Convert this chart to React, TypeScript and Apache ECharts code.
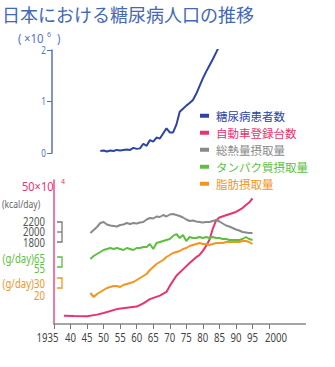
import React, { useEffect, useRef } from "react";
import * as echarts from "echarts";

const titleText = "日本における糖尿病人口の推移";
const seriesNames = ["糖尿病患者数", "自動車登録台数", "総熱量摂取量", "タンパク質摂取量", "脂肪摂取量"];
const seriesColors = ["#2c44a3", "#e8336f", "#8a8a8a", "#5cbf3f", "#f7941d"];

const xTicks = [1935, 1940, 1945, 1950, 1955, 1960, 1965, 1970, 1975, 1980, 1985, 1990, 1995, 2000];
const xTickLabels = ["1935", "40", "45", "50", "55", "60", "65", "70", "75", "80", "85", "90", "95", "2000"];
const topTicks = [0, 1, 2];

// 糖尿病患者数 (×10^6)
const diabetesYears = [1949, 1950, 1951, 1952, 1953, 1954, 1955, 1956, 1957, 1958, 1959, 1960, 1961, 1962, 1963, 1964, 1965, 1966, 1967, 1968, 1969, 1970, 1971, 1972, 1973, 1974, 1975, 1976, 1977, 1978, 1979, 1980, 1981, 1982, 1983, 1984, 1985];
const diabetes = [0.04, 0.05, 0.03, 0.05, 0.04, 0.06, 0.05, 0.06, 0.07, 0.06, 0.1, 0.08, 0.09, 0.18, 0.14, 0.25, 0.22, 0.3, 0.28, 0.38, 0.48, 0.4, 0.4, 0.55, 0.8, 0.86, 0.92, 0.97, 1.03, 1.15, 1.3, 1.45, 1.58, 1.7, 1.82, 1.95, 2.08];

// 自動車登録台数 (×10^4)
const carYears = [1938, 1941, 1945, 1948, 1950, 1954, 1957, 1960, 1962, 1964, 1967, 1969, 1970, 1972, 1974, 1976, 1978, 1979, 1980, 1981, 1982, 1983, 1984, 1985, 1987, 1990, 1992, 1993, 1994, 1995];
const cars = [3.0, 2.9, 2.8, 3.4, 4.0, 5.4, 5.9, 6.3, 7.5, 9.0, 10.3, 11.6, 13.8, 17.5, 19.8, 22.1, 24.2, 25.0, 26.5, 28.3, 30.5, 34.5, 37.5, 38.6, 39.4, 40.6, 42.0, 43.1, 44.0, 45.5];

// 摂取量 years
const intakeYears = [1946, 1947, 1948, 1949, 1950, 1951, 1952, 1953, 1954, 1955, 1956, 1957, 1958, 1959, 1960, 1961, 1962, 1963, 1964, 1965, 1966, 1967, 1968, 1969, 1970, 1971, 1972, 1973, 1974, 1975, 1976, 1977, 1978, 1979, 1980, 1981, 1982, 1983, 1984, 1985, 1986, 1987, 1988, 1989, 1990, 1991, 1992, 1993, 1994, 1995];
// 総熱量 (kcal/day)
const energy = [1980, 2040, 2100, 2180, 2200, 2150, 2130, 2120, 2110, 2140, 2150, 2180, 2160, 2180, 2170, 2190, 2200, 2250, 2280, 2270, 2310, 2300, 2340, 2310, 2350, 2360, 2340, 2320, 2290, 2250, 2220, 2230, 2210, 2200, 2190, 2200, 2200, 2220, 2240, 2210, 2170, 2130, 2110, 2080, 2050, 2030, 2000, 1990, 1980, 1980];
// タンパク質 (g/day)
const protein = [63, 66, 68, 70, 72, 73, 74, 73, 74, 73, 72, 74, 73, 72, 74, 74, 75, 75, 78, 73, 79, 80, 81, 82, 83, 86, 88, 84, 87, 81, 85, 84, 84, 85, 84, 85, 84, 85, 84, 84, 83, 83, 82, 82, 82, 82, 83, 85, 83, 82];
// 脂肪 (g/day)
const fat = [15, 11, 14, 16, 18, 20, 21, 22, 22, 21, 23, 24, 25, 26, 28, 30, 32, 34, 38, 41, 44, 46, 48, 51, 53, 55, 56, 57, 59, 60, 62, 63, 64, 65, 64, 64, 63, 64, 65, 65, 65, 66, 66, 66, 66, 66, 67, 67, 66, 64];

const energyTicks = [2200, 2000, 1800];
const proteinTicks = [65, 55];
const fatTicks = [30, 20];

const NARROW = "'Noto Sans', sans-serif";
const JP = "'Noto Sans CJK JP', sans-serif";
const SQ = 0.74;

const zip = (xs: number[], ys: number[]) => xs.map((x, i) => [x, ys[i]]);

export default function App() {
  const ref = useRef<HTMLDivElement>(null);
  useEffect(() => {
    document.body.style.margin = "0";
    const chart = echarts.init(ref.current!, null, { renderer: "svg" });
    const line = (i: number, data: number[][], xi: number, yi: number) => ({
      name: seriesNames[i],
      type: "line",
      xAxisIndex: xi,
      yAxisIndex: yi,
      data,
      symbol: "none",
      color: seriesColors[i],
      lineStyle: { width: 2, color: seriesColors[i] },
    });
    chart.setOption({
      animation: false,
      title: {
        text: titleText,
        left: 2,
        top: 5,
        padding: 0,
        textStyle: { fontSize: 18, fontWeight: "normal", color: "#4468b4", fontFamily: JP },
      },
      legend: {
        orient: "vertical",
        left: 200,
        top: 110,
        itemWidth: 9,
        itemHeight: 4,
        itemGap: 5.5,
        icon: "rect",
        padding: 0,
        data: seriesNames.map((n, i) => ({
          name: n,
          textStyle: { color: seriesColors[i], fontSize: 11.5, fontFamily: JP, padding: [0, 0, 0, 2] },
        })),
      },
      grid: [
        { left: 54, top: 50, width: 251.4, height: 103 },
        { left: 54, top: 180, width: 251.4, height: 144 },
      ],
      xAxis: [
        { type: "value", gridIndex: 0, min: 1935, max: 2011, show: false },
        {
          type: "value",
          gridIndex: 1,
          min: 1935,
          max: 2011,
          interval: 5,
          axisLine: { lineStyle: { color: "#888", width: 1.5 } },
          axisTick: { customValues: xTicks, length: 5, lineStyle: { color: "#777", width: 1 } },
          axisLabel: { show: false },
          splitLine: { show: false },
        },
      ],
      yAxis: [
        {
          type: "value",
          gridIndex: 0,
          min: 0,
          max: 2,
          interval: 1,
          offset: 2,
          axisLine: { show: true, lineStyle: { color: "#5a6fbf", width: 1.5 } },
          axisTick: { show: true, customValues: topTicks, length: 5, lineStyle: { color: "#5a6fbf" } },
          axisLabel: { show: false },
          splitLine: { show: false },
        },
        {
          type: "value",
          gridIndex: 1,
          min: 0,
          max: 52.17,
          axisLine: { show: true, lineStyle: { color: "#ea4c86", width: 1.5 } },
          axisTick: { show: false },
          axisLabel: { show: false },
          splitLine: { show: false },
        },
        { type: "value", gridIndex: 1, min: 160, max: 3040, show: false, splitLine: { show: false } },
        { type: "value", gridIndex: 1, min: -2, max: 142, show: false, splitLine: { show: false } },
        { type: "value", gridIndex: 1, min: -16, max: 128, show: false, splitLine: { show: false } },
      ],
      series: [
        line(0, zip(diabetesYears, diabetes), 0, 0),
        line(1, zip(carYears, cars), 1, 1),
        line(2, zip(intakeYears, energy), 1, 2),
        line(3, zip(intakeYears, protein), 1, 3),
        line(4, zip(intakeYears, fat), 1, 4),
      ],
    });

    const py = (axis: number, v: number) => chart.convertToPixel({ yAxisIndex: axis }, v) as number;
    const px = (v: number) => chart.convertToPixel({ xAxisIndex: 1 }, v) as number;
    const bx0 = 57;
    const bx1 = 62;
    const bracket = (a: number, b: number, color: string) => ({
      type: "polyline",
      shape: { points: [[bx0, a], [bx1, a], [bx1, b], [bx0, b]] },
      style: { stroke: color, lineWidth: 1.3, fill: null },
    });
    const txt = (x: number, y: number, text: string, color: string, size: number, align = "right", sx = SQ) => ({
      type: "text",
      x,
      y,
      scaleX: sx,
      style: { text, fill: color, fontSize: size, fontFamily: NARROW, align, verticalAlign: "middle" },
    });
    const e0 = py(2, energyTicks[0]);
    const e1 = py(2, energyTicks[1]);
    const e2 = py(2, energyTicks[2]);
    const p0 = py(3, proteinTicks[0]);
    const p1 = py(3, proteinTicks[1]);
    const f0 = py(4, fatTicks[0]);
    const f1 = py(4, fatTicks[1]);
    const gray = "#666";
    const green = "#5cbf3f";
    const orange = "#f7941d";
    const pink = "#e8336f";
    const blue = "#5a6fbf";
    const axisY = py(1, 0);

    const last = xTicks.length - 1;
    const xLabels = xTicks.map((v, i) =>
      txt(px(v) + (i === 0 ? -6.5 : i === last ? 7 : 0), axisY + 13, xTickLabels[i], "#444", 13, "center")
    );
    const topLabels = topTicks.map((v) => txt(46, py(0, v), String(v), blue, 11, "right"));

    chart.setOption({
      graphic: [
        ...xLabels,
        ...topLabels,
        txt(18, 38, "(", blue, 12, "left", 0.95),
        txt(24, 38, "×10", blue, 12, "left", 0.95),
        txt(47, 34, "6", blue, 7, "left", 1),
        txt(57, 38, ")", blue, 12, "left", 0.95),
        txt(22, 186, "50×10", pink, 13, "left", 0.85),
        txt(61, 181, "4", pink, 7, "left", 1),
        txt(2, 203, "(kcal/day)", gray, 11.5, "left"),
        txt(45, e0 - 1, String(energyTicks[0]), "#555", 13),
        txt(45, e1 - 1, String(energyTicks[1]), "#555", 13),
        txt(45, e2, String(energyTicks[2]), "#555", 13),
        bracket(e0, e2, "#777"),
        { type: "line", shape: { x1: bx0, y1: e1, x2: bx1, y2: e1 }, style: { stroke: "#777", lineWidth: 1.3 } },
        txt(45, p0 + 1, "(g/day)" + proteinTicks[0], green, 13),
        txt(45, p1 + 1, String(proteinTicks[1]), green, 13),
        bracket(p0, p1, green),
        txt(45, f0 + 5, "(g/day)" + fatTicks[0], orange, 13),
        txt(45, f1 + 7, String(fatTicks[1]), orange, 13),
        bracket(f0, f1, orange),
      ],
    });
    return () => chart.dispose();
  }, []);
  return <div ref={ref} style={{ width: 335, height: 367 }} />;
}
